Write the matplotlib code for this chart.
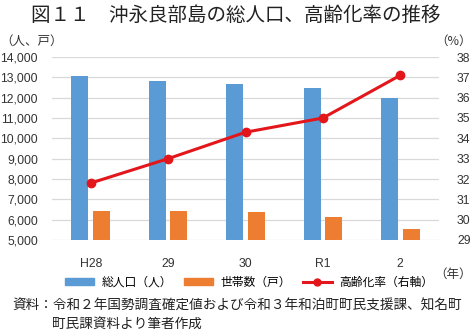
import numpy as np
import matplotlib
matplotlib.use("Agg")
import matplotlib.pyplot as plt
from matplotlib.lines import Line2D
from matplotlib.patches import Patch

plt.rcParams['font.family'] = ['Noto Sans CJK JP', 'DejaVu Sans']

# data
years = ["H28", "29", "30", "R1", "2"]
population = [13080, 12835, 12670, 12470, 11985]
households = [6445, 6410, 6365, 6115, 5535]
aging_rate = [31.8, 33.0, 34.3, 35.0, 37.1]

blue = "#5B9BD5"
orange = "#ED7D31"
red = "#E3171B"
tick_font = dict(family="Liberation Sans", size=8.8)

W, H = 472, 334
fig = plt.figure(figsize=(W / 100, H / 100), dpi=100)
ax = fig.add_axes([52 / W, 1 - 240 / H, (439 - 52) / W, (240 - 57) / H])

x = np.arange(len(years))
ax.bar(x - 0.14, population, width=0.22, color=blue, zorder=2)
ax.bar(x + 0.14, households, width=0.22, color=orange, zorder=2)
ax.set_xlim(-0.5, len(years) - 0.5)
ax.set_ylim(5000, 14000)
ax.set_yticks(np.arange(5000, 14001, 1000))
ax.set_yticklabels([f"{v:,}" for v in range(5000, 14001, 1000)], fontdict=tick_font)
ax.set_xticks(x)
ax.set_xticklabels(years, fontdict=tick_font)
ax.grid(axis="y", color="#D9D9D9", linewidth=0.9, zorder=0)
for s in ax.spines.values():
    s.set_visible(False)
ax.tick_params(axis="both", length=0, colors="#333333")
ax.tick_params(axis="y", pad=10)
ax.tick_params(axis="x", pad=13)

ax2 = ax.twinx()
ax2.plot(x, aging_rate, color=red, linewidth=2.2, marker="o", markersize=6, zorder=3)
ax2.set_ylim(29, 38)
ax2.set_yticks(range(29, 39))
ax2.set_yticklabels([str(v) for v in range(29, 39)], fontdict=tick_font)
for s in ax2.spines.values():
    s.set_visible(False)
ax2.tick_params(axis="y", length=0, colors="#333333", pad=13)

fig.text(236 / W, 1 - 15 / H, "図１１　沖永良部島の総人口、高齢化率の推移",
         ha="center", va="center", fontsize=14, color="#222222")
fig.text(0, 1 - 41 / H, "（人、戸）", ha="left", va="center", fontsize=9, color="#333333")
fig.text(1, 1 - 41 / H, "（%）", ha="right", va="center", fontsize=9, color="#333333")
fig.text(1, 1 - 274 / H, "（年）", ha="right", va="center", fontsize=9, color="#333333")

handles = [Patch(color=blue), Patch(color=orange),
           Line2D([], [], color=red, linewidth=2.2, marker="o", markersize=5)]
labels = ["総人口（人）", "世帯数（戸）", "高齢化率（右軸）"]
fig.legend(handles, labels, loc="center", bbox_to_anchor=(249 / W, 1 - 282 / H),
           ncol=3, frameon=False, fontsize=8.5, handlelength=2.5, handleheight=0.6,
           handletextpad=0.6, columnspacing=1.0, borderaxespad=0)

fig.text(12 / W, 1 - 306 / H,
         "資料：令和２年国勢調査確定値および令和３年和泊町町民支援課、知名町",
         ha="left", va="center", fontsize=9.8, color="#222222")
fig.text(52 / W, 1 - 325 / H, "町民課資料より筆者作成",
         ha="left", va="center", fontsize=9.8, color="#222222")

fig.savefig("out.png", dpi=100)
